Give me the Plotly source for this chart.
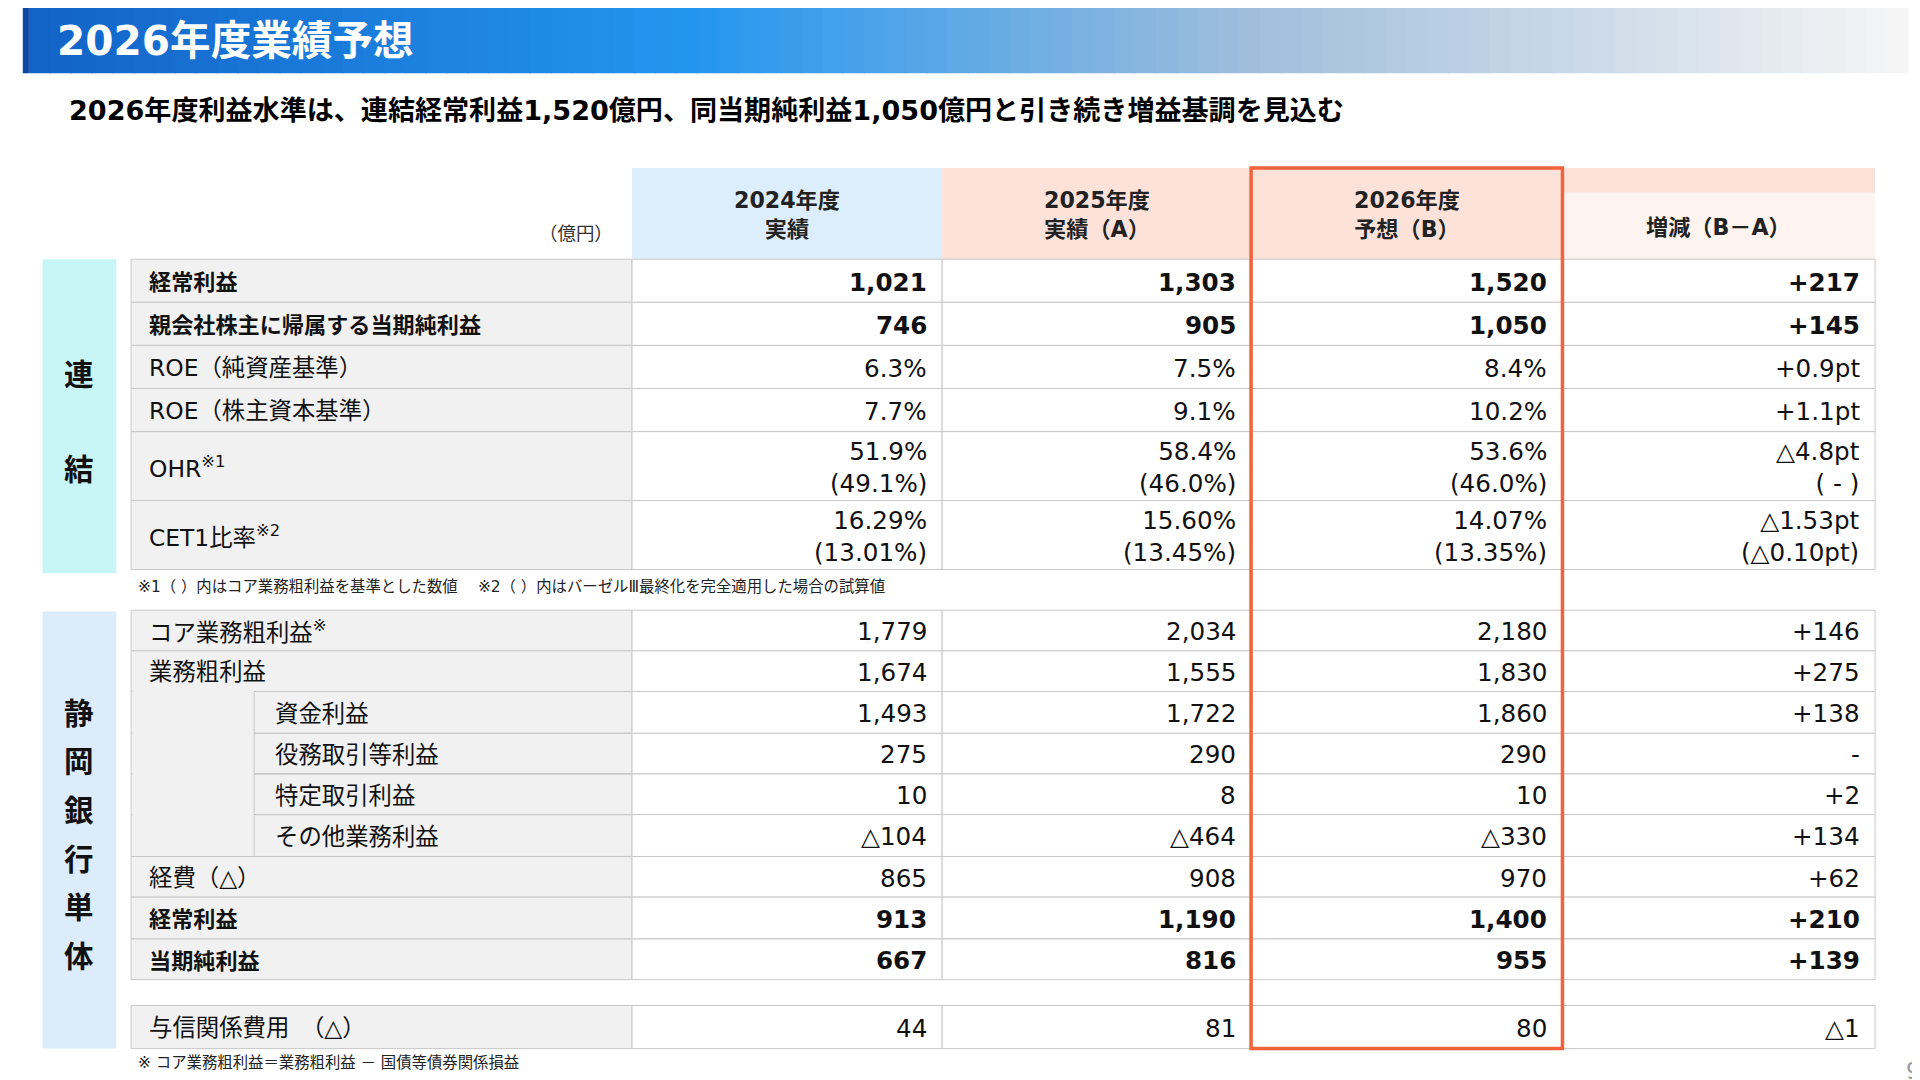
import plotly.graph_objects as go

# ---- data ----
title = "2026年度業績予想"
subtitle = "2026年度利益水準は、連結経常利益1,520億円、同当期純利益1,050億円と引き続き増益基調を見込む"
col_heads = ["2024年度<br>実績", "2025年度<br>実績（A）", "2026年度<br>予想（B）", "増減（B－A）"]

cons_labels = ["経常利益", "親会社株主に帰属する当期純利益", "ROE（純資産基準）", "ROE（株主資本基準）",
               "OHR<sup>※1</sup>", "CET1比率<sup>※2</sup>"]
cons_bold = [True, True, False, False, False, False]
cons_2024 = ["1,021", "746", "6.3%", "7.7%", "51.9%<br>(49.1%)", "16.29%<br>(13.01%)"]
cons_2025 = ["1,303", "905", "7.5%", "9.1%", "58.4%<br>(46.0%)", "15.60%<br>(13.45%)"]
cons_2026 = ["1,520", "1,050", "8.4%", "10.2%", "53.6%<br>(46.0%)", "14.07%<br>(13.35%)"]
cons_diff = ["+217", "+145", "+0.9pt", "+1.1pt", "△4.8pt<br>( - )", "△1.53pt<br>(△0.10pt)"]

bank_labels = ["コア業務粗利益<sup>※</sup>", "業務粗利益", "資金利益", "役務取引等利益", "特定取引利益",
               "その他業務利益", "経費（△）", "経常利益", "当期純利益", "与信関係費用　（△）"]
bank_bold = [False, False, False, False, False, False, False, True, True, False]
bank_sub = [False, False, True, True, True, True, False, False, False, False]
bank_2024 = ["1,779", "1,674", "1,493", "275", "10", "△104", "865", "913", "667", "44"]
bank_2025 = ["2,034", "1,555", "1,722", "290", "8", "△464", "908", "1,190", "816", "81"]
bank_2026 = ["2,180", "1,830", "1,860", "290", "10", "△330", "970", "1,400", "955", "80"]
bank_diff = ["+146", "+275", "+138", "-", "+2", "+134", "+62", "+210", "+139", "△1"]

note1 = "※1（ ）内はコア業務粗利益を基準とした数値　 ※2（ ）内はバーゼルⅢ最終化を完全適用した場合の試算値"
note2 = "※ コア業務粗利益＝業務粗利益 － 国債等債券関係損益"

# ---- layout ----
W, H = 1560, 877
S = 1920 / W
FONT = "DejaVu Sans, Noto Sans CJK JP"
GRID = "#c8c8c8"
LABEL_BG = "#f1f1f1"

cols = [100, 507, 759, 1010, 1263, 1517]
cons_rows = [(204, 239), (239, 274), (274, 309), (309, 344), (344, 400), (400, 456)]
bank_rows = [(489, 522), (522, 555), (555, 589), (589, 622), (622, 655), (655, 689),
             (689, 722), (722, 756), (756, 789), (810, 845)]

shapes = []
ann = []


def rect(x0, y0, x1, y1, fill, line=None, lw=1):
    shapes.append(dict(type="rect", xref="x", yref="y", x0=x0, y0=y0, x1=x1, y1=y1,
                       fillcolor=fill, line=dict(color=line or fill, width=lw if line else 0),
                       layer="below"))


def text(x, y, s, size=20, bold=False, color="#111", anchor="right"):
    if bold:
        s = "<b>" + s + "</b>"
    ann.append(dict(x=x, y=y, xref="x", yref="y", text=s, showarrow=False, xanchor=anchor,
                    yanchor="middle", font=dict(family=FONT, size=size * S, color=color),
                    align=anchor))


# title bar gradient: deep blue -> bright blue -> light grey
stops = [(0.0, (20, 100, 200)), (0.35, (35, 150, 240)), (0.65, (160, 190, 220)), (1.0, (245, 245, 245))]
n = 90
for i in range(n):
    t = i / (n - 1)
    for (ta, ca), (tb, cb) in zip(stops, stops[1:]):
        if ta <= t <= tb:
            u = (t - ta) / (tb - ta)
            c = tuple(int(ca[k] + (cb[k] - ca[k]) * u) for k in range(3))
            break
    x0 = 17 + (1543 - 17) * i / n
    rect(x0, 0, x0 + (1543 - 17) / n + 1, 53, "rgb(%d,%d,%d)" % c)
rect(12, 0, 17, 53, "#0d47a1")
text(38, 27, title, 33, True, "white", "left")
text(48, 83, subtitle, 22, True, "#000", "left")

# header
rect(cols[1], 130, cols[2], 204, "#dcedfb")
rect(cols[2], 130, cols[3], 204, "#fde2da")
rect(cols[3], 130, cols[4], 204, "#fde2da")
rect(cols[4], 130, cols[5], 150, "#fde2da")
rect(cols[4], 150, cols[5], 204, "#fdf3ef")
for j, h in enumerate(col_heads):
    text((cols[j + 1] + cols[j + 2]) / 2, 168 if j < 3 else 178, h, 18, True, "#222", "center")
text(493, 183, "（億円）", 15, False, "#333")

# side blocks
rect(28, 204, 88, 459, "#c8f6f6")
rect(28, 490, 88, 845, "#dcecfb")
text(58, 298, "連", 24, True, "#111", "center")
text(58, 375, "結", 24, True, "#111", "center")
for k, ch in enumerate("静岡銀行単体"):
    text(58, 573 + k * 39.5, ch, 24, True, "#111", "center")


def block(rows, labels, bold, vals, sub=None):
    for i, lab in enumerate(labels):
        y0, y1 = rows[i]
        yc = (y0 + y1) / 2
        rect(cols[0], y0, cols[1], y1, LABEL_BG, GRID)
        for j in range(4):
            rect(cols[j + 1], y0, cols[j + 2], y1, "white", GRID)
        is_sub = sub is not None and sub[i]
        text(cols[0] + (115 if is_sub else 13), yc + 1, lab, 19 if not bold[i] else 18, bold[i], "#111", "left")
        for j in range(4):
            text(cols[j + 2] - 11, yc + 1, vals[j][i], 20, bold[i], "#111")


block(cons_rows, cons_labels, cons_bold, [cons_2024, cons_2025, cons_2026, cons_diff])
block(bank_rows, bank_labels, bank_bold, [bank_2024, bank_2025, bank_2026, bank_diff], bank_sub)
# merged grey part left of sub rows
sub_top, sub_bot = bank_rows[2][0], bank_rows[5][1]
rect(cols[0] + 1, sub_top - 0.5, 200, sub_bot - 0.5, LABEL_BG)
for y in [r[0] for r in bank_rows[2:7]]:
    shapes.append(dict(type="line", xref="x", yref="y", x0=200, x1=cols[1], y0=y, y1=y,
                       line=dict(color=GRID, width=1)))
shapes.append(dict(type="line", xref="x", yref="y", x0=200, x1=200, y0=sub_top, y1=sub_bot,
                   line=dict(color=GRID, width=1)))

# highlight frame
shapes.append(dict(type="rect", xref="x", yref="y", x0=1010, x1=1263, y0=130, y1=845,
                   line=dict(color="#f4623a", width=3.5), fillcolor="rgba(0,0,0,0)", layer="above"))

text(104, 470, note1, 12.5, False, "#222", "left")
text(104, 857, note2, 12.5, False, "#222", "left")
text(1548, 863, "9", 18, False, "#999", "center")

fig = go.Figure()
fig.update_layout(
    width=1920, height=1080, margin=dict(l=0, r=0, t=0, b=0),
    paper_bgcolor="white", plot_bgcolor="white",
    xaxis=dict(range=[0, W], visible=False, fixedrange=True),
    yaxis=dict(range=[H, 0], visible=False, fixedrange=True),
    shapes=shapes, annotations=ann, showlegend=False,
)
fig.write_html("out.html")
